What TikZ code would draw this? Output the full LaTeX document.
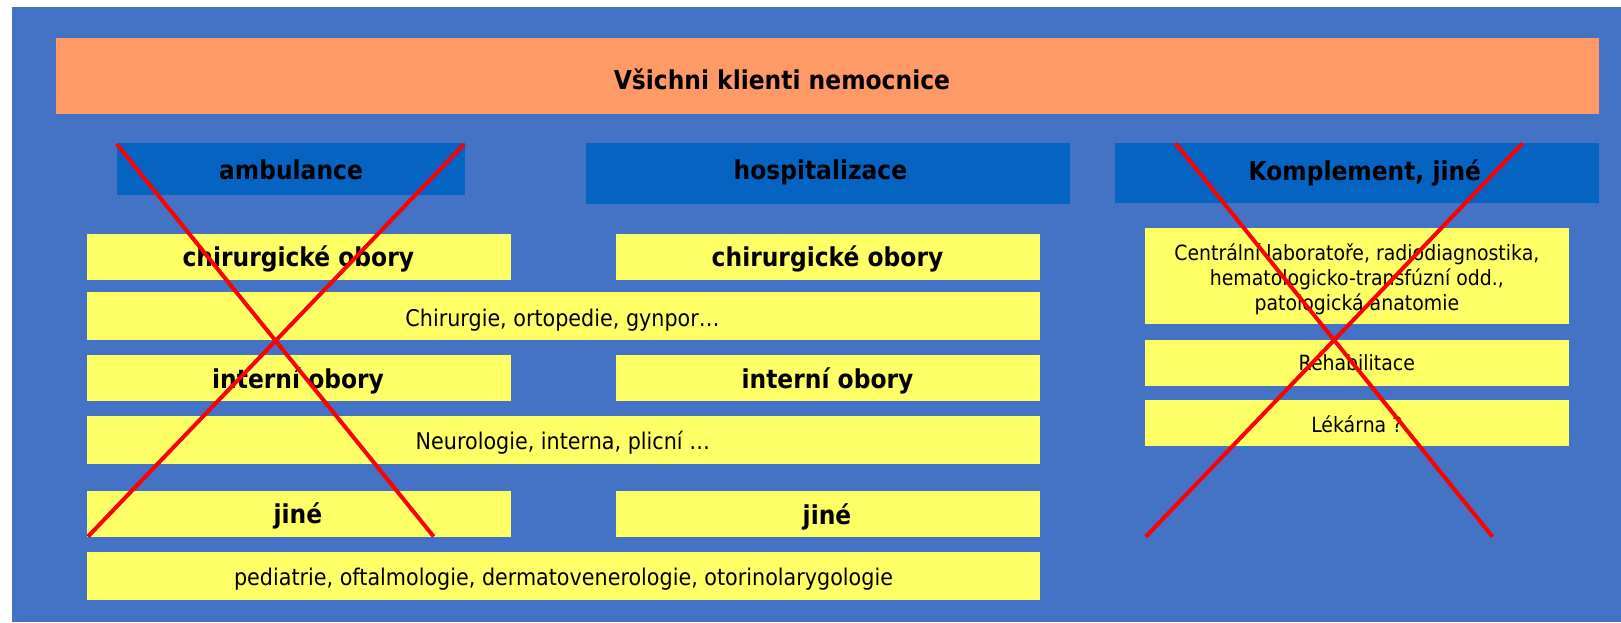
\documentclass[tikz,border=0pt]{standalone}
\usepackage{fontspec}
\setmainfont{DejaVu Sans}[FakeStretch=0.9]
\definecolor{bgblue}{HTML}{4472C4}
\definecolor{hdblue}{HTML}{0563C1}
\definecolor{orangebox}{HTML}{FF9966}
\definecolor{yellowbox}{HTML}{FFFF66}
\definecolor{crossred}{HTML}{FF0000}
\begin{document}
\begin{tikzpicture}[x=1pt,y=-1pt,
  panel/.style={anchor=north west, inner sep=0pt, outer sep=0pt, draw=none},
  orangepanel/.style={panel, fill=orangebox},
  bluepanel/.style={panel, fill=hdblue},
  yellowpanel/.style={panel, fill=yellowbox},
  boldtxt/.style={anchor=base, inner sep=0pt, text=black, font=\fontsize{26}{30}\selectfont\bfseries},
  normtxt/.style={anchor=base, inner sep=0pt, text=black, font=\fontsize{23}{27}\selectfont},
  smalltxt/.style={inner sep=0pt, text=black, font=\fontsize{21}{25.3}\selectfont, align=center},
  cross/.style={draw=crossred, line width=4pt}
]
\useasboundingbox (0,0) rectangle (1621,622);
\fill[white] (0,0) rectangle (1621,622);
\fill[bgblue] (11.5,7) rectangle (1621,622);

% boxes
\node[orangepanel, minimum width=1543.1pt, minimum height=75.7pt] (all) at (55.9,38) {};
\node[bluepanel, minimum width=347.9pt, minimum height=51.7pt] (amb) at (117.1,143) {};
\node[bluepanel, minimum width=483.4pt, minimum height=60.7pt] (hosp) at (586.2,143) {};
\node[bluepanel, minimum width=484pt, minimum height=60.3pt] (kompl) at (1114.8,143) {};

\node[yellowpanel, minimum width=424pt, minimum height=45.7pt] (chirL) at (86.9,234) {};
\node[yellowpanel, minimum width=424.2pt, minimum height=45.7pt] (chirM) at (616,234) {};
\node[yellowpanel, minimum width=953.3pt, minimum height=47.7pt] (chirW) at (86.9,292) {};
\node[yellowpanel, minimum width=424pt, minimum height=45.7pt] (intL) at (86.9,355) {};
\node[yellowpanel, minimum width=424.2pt, minimum height=45.7pt] (intM) at (616,355) {};
\node[yellowpanel, minimum width=953.3pt, minimum height=47.7pt] (neuroW) at (86.9,416) {};
\node[yellowpanel, minimum width=424pt, minimum height=45.7pt] (jineL) at (86.9,491) {};
\node[yellowpanel, minimum width=424.2pt, minimum height=45.7pt] (jineM) at (616,491) {};
\node[yellowpanel, minimum width=953.3pt, minimum height=47.5pt] (pedW) at (86.9,552) {};

\node[yellowpanel, minimum width=423.6pt, minimum height=96.3pt] (centr) at (1145,228) {};
\node[yellowpanel, minimum width=423.6pt, minimum height=45.7pt] (rehab) at (1145,340) {};
\node[yellowpanel, minimum width=423.6pt, minimum height=45.7pt] (lek) at (1145,400) {};

% texts
\node[boldtxt] (tall) at (781.9,89.3) {Všichni klienti nemocnice};
\node[boldtxt] (tamb) at (291,179.3) {ambulance};
\node[boldtxt] (thosp) at (820.4,179.3) {hospitalizace};
\node[boldtxt] (tkompl) at (1364.8,180) {Komplement, jiné};
\node[boldtxt] (tchirL) at (298.3,266.7) {chirurgické obory};
\node[boldtxt] (tchirM) at (827.5,266.7) {chirurgické obory};
\node[normtxt] (tchirW) at (562.5,326) {Chirurgie, ortopedie, gynpor…};
\node[boldtxt] (tintL) at (298.1,388.3) {interní obory};
\node[boldtxt] (tintM) at (827.5,388.3) {interní obory};
\node[normtxt] (tneuro) at (562.8,449.3) {Neurologie, interna, plicní …};
\node[boldtxt] (tjineL) at (297.9,523.5) {jiné};
\node[boldtxt] (tjineM) at (827,524) {jiné};
\node[normtxt] (tped) at (563.5,585) {pediatrie, oftalmologie, dermatovenerologie, otorinolarygologie};
\node[smalltxt] (tcentr) at (1356.8,279.2) {Centrální laboratoře, radiodiagnostika,\\hematologicko-transfúzní odd.,\\patologická anatomie};
\node[smalltxt, anchor=base] (trehab) at (1356.8,370) {Rehabilitace};
\node[smalltxt, anchor=base] (tlek) at (1356.8,432) {Lékárna ?};

% red crosses
\coordinate (a1) at (116.7,144);
\coordinate (a2) at (433.6,536.5);
\coordinate (a3) at (464.2,144);
\coordinate (a4) at (88,536.5);
\coordinate (k1) at (1175.6,143.3);
\coordinate (k2) at (1492.5,536.7);
\coordinate (k3) at (1522.5,143.3);
\coordinate (k4) at (1145.8,536.7);
\draw[cross] (a1) -- (a2);
\draw[cross] (a3) -- (a4);
\draw[cross] (k1) -- (k2);
\draw[cross] (k3) -- (k4);
\end{tikzpicture}
\end{document}
